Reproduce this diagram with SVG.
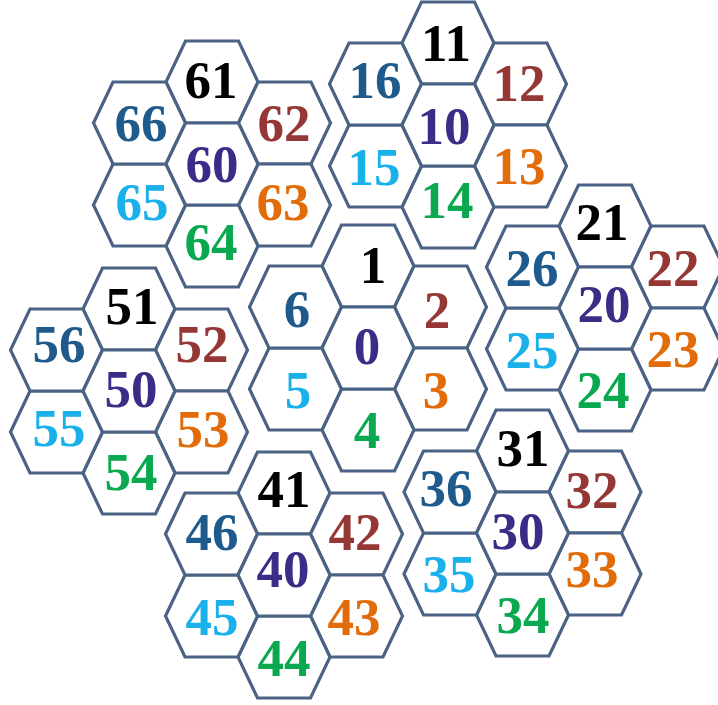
<svg xmlns="http://www.w3.org/2000/svg" width="718" height="705" viewBox="0 0 718 705">
<defs>
<polygon id="hex" points="-46,0 -26.5,-41 26.5,-41 46,0 26.5,41 -26.5,41"/>
<style>
use{fill:#ffffff;stroke:#4a6384;stroke-width:3.2;stroke-linejoin:miter}
text{font-family:"Liberation Serif","Times New Roman",serif;font-weight:bold;font-size:53px;text-anchor:middle}
.c0{fill:#3b2c87}.c1{fill:#000000}.c2{fill:#953735}.c3{fill:#e36c0a}.c4{fill:#0aa84f}.c5{fill:#1ab0ea}.c6{fill:#1f5a8c}
</style>
</defs>
<rect width="718" height="705" fill="#ffffff"/>
<g id="cluster-0">
<g id="cell-1"><use href="#hex" x="368" y="266"/><text class="c1" x="373" y="283">1</text></g>
<g id="cell-2"><use href="#hex" x="440.5" y="307"/><text class="c2" x="437" y="328">2</text></g>
<g id="cell-3"><use href="#hex" x="440.5" y="389"/><text class="c3" x="436" y="408">3</text></g>
<g id="cell-4"><use href="#hex" x="368" y="430"/><text class="c4" x="367" y="448">4</text></g>
<g id="cell-5"><use href="#hex" x="295.5" y="389"/><text class="c5" x="298" y="408">5</text></g>
<g id="cell-6"><use href="#hex" x="295.5" y="307"/><text class="c6" x="297" y="327">6</text></g>
<g id="cell-0"><use href="#hex" x="368" y="348"/><text class="c0" x="367" y="364">0</text></g>
</g>
<g id="cluster-10">
<g id="cell-11"><use href="#hex" x="448" y="43"/><text class="c1" x="446" y="61">11</text></g>
<g id="cell-12"><use href="#hex" x="520.5" y="84"/><text class="c2" x="519" y="101">12</text></g>
<g id="cell-13"><use href="#hex" x="520.5" y="166"/><text class="c3" x="519" y="184">13</text></g>
<g id="cell-14"><use href="#hex" x="448" y="207"/><text class="c4" x="447" y="218">14</text></g>
<g id="cell-15"><use href="#hex" x="375.5" y="166"/><text class="c5" x="374" y="185">15</text></g>
<g id="cell-16"><use href="#hex" x="375.5" y="84"/><text class="c6" x="375" y="98">16</text></g>
<g id="cell-10"><use href="#hex" x="448" y="125"/><text class="c0" x="444" y="144">10</text></g>
</g>
<g id="cluster-20">
<g id="cell-21"><use href="#hex" x="605" y="226"/><text class="c1" x="602" y="240">21</text></g>
<g id="cell-22"><use href="#hex" x="677.5" y="267"/><text class="c2" x="673" y="286">22</text></g>
<g id="cell-23"><use href="#hex" x="677.5" y="349"/><text class="c3" x="673" y="367">23</text></g>
<g id="cell-24"><use href="#hex" x="605" y="390"/><text class="c4" x="603" y="408">24</text></g>
<g id="cell-25"><use href="#hex" x="532.5" y="349"/><text class="c5" x="532" y="368">25</text></g>
<g id="cell-26"><use href="#hex" x="532.5" y="267"/><text class="c6" x="532" y="286">26</text></g>
<g id="cell-20"><use href="#hex" x="605" y="308"/><text class="c0" x="604" y="322">20</text></g>
</g>
<g id="cluster-30">
<g id="cell-31"><use href="#hex" x="522.5" y="451"/><text class="c1" x="523" y="466">31</text></g>
<g id="cell-32"><use href="#hex" x="595" y="492"/><text class="c2" x="592" y="508">32</text></g>
<g id="cell-33"><use href="#hex" x="595" y="574"/><text class="c3" x="592" y="587">33</text></g>
<g id="cell-34"><use href="#hex" x="522.5" y="615"/><text class="c4" x="523" y="633">34</text></g>
<g id="cell-35"><use href="#hex" x="450" y="574"/><text class="c5" x="449" y="592">35</text></g>
<g id="cell-36"><use href="#hex" x="450" y="492"/><text class="c6" x="446" y="506">36</text></g>
<g id="cell-30"><use href="#hex" x="522.5" y="533"/><text class="c0" x="518" y="549">30</text></g>
</g>
<g id="cluster-40">
<g id="cell-41"><use href="#hex" x="284" y="493"/><text class="c1" x="284" y="507">41</text></g>
<g id="cell-42"><use href="#hex" x="356.5" y="534"/><text class="c2" x="355" y="550">42</text></g>
<g id="cell-43"><use href="#hex" x="356.5" y="616"/><text class="c3" x="354" y="635">43</text></g>
<g id="cell-44"><use href="#hex" x="284" y="657"/><text class="c4" x="284" y="676">44</text></g>
<g id="cell-45"><use href="#hex" x="211.5" y="616"/><text class="c5" x="212" y="635">45</text></g>
<g id="cell-46"><use href="#hex" x="211.5" y="534"/><text class="c6" x="212" y="550">46</text></g>
<g id="cell-40"><use href="#hex" x="284" y="575"/><text class="c0" x="283" y="587">40</text></g>
</g>
<g id="cluster-50">
<g id="cell-51"><use href="#hex" x="129" y="309"/><text class="c1" x="132" y="324">51</text></g>
<g id="cell-52"><use href="#hex" x="201.5" y="350"/><text class="c2" x="202" y="362">52</text></g>
<g id="cell-53"><use href="#hex" x="201.5" y="432"/><text class="c3" x="203" y="447">53</text></g>
<g id="cell-54"><use href="#hex" x="129" y="473"/><text class="c4" x="131" y="490">54</text></g>
<g id="cell-55"><use href="#hex" x="56.5" y="432"/><text class="c5" x="59" y="446">55</text></g>
<g id="cell-56"><use href="#hex" x="56.5" y="350"/><text class="c6" x="59" y="362">56</text></g>
<g id="cell-50"><use href="#hex" x="129" y="391"/><text class="c0" x="131" y="407">50</text></g>
</g>
<g id="cluster-60">
<g id="cell-61"><use href="#hex" x="212" y="82"/><text class="c1" x="211" y="98">61</text></g>
<g id="cell-62"><use href="#hex" x="284.5" y="123"/><text class="c2" x="284" y="141">62</text></g>
<g id="cell-63"><use href="#hex" x="284.5" y="205"/><text class="c3" x="283" y="220">63</text></g>
<g id="cell-64"><use href="#hex" x="212" y="246"/><text class="c4" x="211" y="260">64</text></g>
<g id="cell-65"><use href="#hex" x="139.5" y="205"/><text class="c5" x="142" y="220">65</text></g>
<g id="cell-66"><use href="#hex" x="139.5" y="123"/><text class="c6" x="141" y="141">66</text></g>
<g id="cell-60"><use href="#hex" x="212" y="164"/><text class="c0" x="212" y="182">60</text></g>
</g>
</svg>
